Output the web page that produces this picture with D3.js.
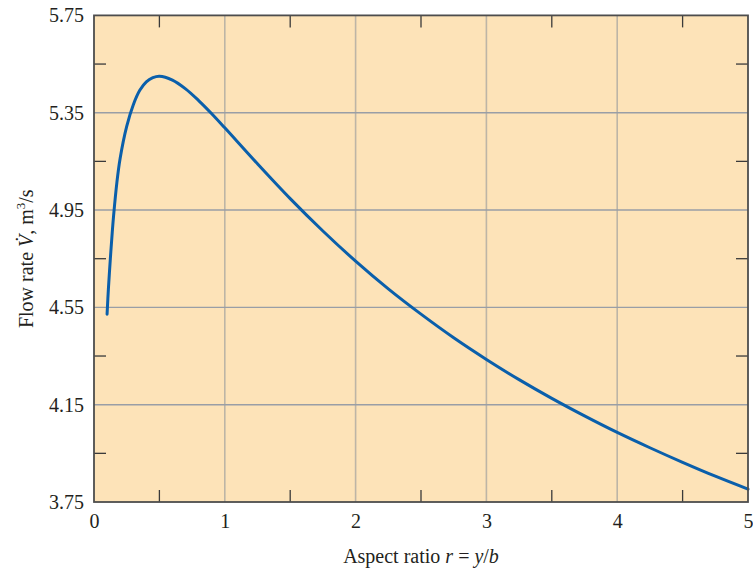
<!DOCTYPE html>
<html>
<head>
<meta charset="utf-8">
<script src="https://cdn.jsdelivr.net/npm/d3@7"></script>
<style>
  html, body { margin: 0; padding: 0; background: #ffffff; }
  svg { display: block; }
  text { font-family: "Liberation Serif", "DejaVu Serif", serif; fill: #231f20; }
</style>
</head>
<body>
<svg id="chart" width="753" height="570"></svg>
<script>
// ---- data ----
const aspectRatio = [0.1, 0.11, 0.125, 0.14, 0.15, 0.175, 0.2, 0.25, 0.3, 0.35, 0.4, 0.45, 0.5, 0.6, 0.7, 0.8, 0.9, 1.0,
  1.25, 1.5, 1.75, 2.0, 2.25, 2.5, 2.75, 3.0, 3.25, 3.5, 3.75, 4.0, 4.25, 4.5, 4.75, 5.0];
const flowRate = [4.522, 4.625, 4.750, 4.862, 4.928, 5.064, 5.163, 5.294, 5.382, 5.442, 5.477, 5.494, 5.500, 5.484, 5.448, 5.400, 5.346, 5.288,
  5.140, 4.997, 4.864, 4.740, 4.626, 4.522, 4.425, 4.336, 4.253, 4.176, 4.104, 4.036, 3.973, 3.913, 3.856, 3.803];
const xTicks = [0, 1, 2, 3, 4, 5];
const xMinorTicks = [0.5, 1.5, 2.5, 3.5, 4.5];
const yTicks = [3.75, 4.15, 4.55, 4.95, 5.35, 5.75];
const yMinorTicks = [3.95, 4.35, 4.75, 5.15, 5.55];

(function () {
const svg = d3.select("#chart");
const pL = 94, pR = 748, pT = 15.4, pB = 502;
const x = d3.scaleLinear().domain([0, 5]).range([pL, pR]);
const y = d3.scaleLinear().domain([3.75, 5.75]).range([pB, pT]);

// background
svg.append("rect").attr("x", pL).attr("y", pT)
  .attr("width", pR - pL).attr("height", pB - pT)
  .attr("fill", "#fde3b8");

// gridlines
svg.append("g").selectAll("line").data(xTicks.filter(d => d > 0 && d < 5)).join("line")
  .attr("x1", d => x(d)).attr("x2", d => x(d)).attr("y1", pT).attr("y2", pB)
  .attr("stroke", "#bdb5a6").attr("stroke-width", 1.6);
svg.append("g").selectAll("line").data(yTicks.filter(d => d > 3.75 && d < 5.75)).join("line")
  .attr("x1", pL).attr("x2", pR).attr("y1", d => y(d)).attr("y2", d => y(d))
  .attr("stroke", "#999ea6").attr("stroke-width", 1.4);

// minor inward ticks
const tl = 12;
const tickG = svg.append("g").attr("stroke", "#3a3a3a").attr("stroke-width", 1.3);
xMinorTicks.forEach(d => {
  tickG.append("line").attr("x1", x(d)).attr("x2", x(d)).attr("y1", pB).attr("y2", pB - tl);
  tickG.append("line").attr("x1", x(d)).attr("x2", x(d)).attr("y1", pT).attr("y2", pT + tl);
});
yMinorTicks.forEach(d => {
  tickG.append("line").attr("x1", pL).attr("x2", pL + tl).attr("y1", y(d)).attr("y2", y(d));
  tickG.append("line").attr("x1", pR).attr("x2", pR - tl).attr("y1", y(d)).attr("y2", y(d));
});

// curve
const line = d3.line().x((d, i) => x(aspectRatio[i])).y(d => y(d)).curve(d3.curveCatmullRom.alpha(0.5));
svg.append("path").datum(flowRate).attr("d", line)
  .attr("fill", "none").attr("stroke", "#0a5fab").attr("stroke-width", 3)
  .attr("stroke-linecap", "round").attr("stroke-linejoin", "round");

// frame
svg.append("rect").attr("x", pL).attr("y", pT)
  .attr("width", pR - pL).attr("height", pB - pT)
  .attr("fill", "none").attr("stroke", "#4d4d4d").attr("stroke-width", 1.8);

// axis labels using d3 axes (no tick lines)
const xAxis = d3.axisBottom(x).tickValues(xTicks).tickFormat(d3.format("d")).tickSize(0).tickPadding(12);
const gx = svg.append("g").attr("transform", `translate(0,${pB})`).call(xAxis);
gx.select(".domain").remove();
gx.selectAll("text").attr("font-family", "Liberation Serif").attr("font-size", 20).attr("fill", "#231f20");

const yAxis = d3.axisLeft(y).tickValues(yTicks).tickFormat(d3.format(".2f")).tickSize(0).tickPadding(10);
const gy = svg.append("g").attr("transform", `translate(${pL},0)`).call(yAxis);
gy.select(".domain").remove();
gy.selectAll("text").attr("font-family", "Liberation Serif").attr("font-size", 20).attr("fill", "#231f20");

// x title
const xt = svg.append("text").attr("x", (pL + pR) / 2).attr("y", 563)
  .attr("text-anchor", "middle").attr("font-size", 20);
xt.append("tspan").text("Aspect ratio ");
xt.append("tspan").attr("font-style", "italic").text("r");
xt.append("tspan").text(" = ");
xt.append("tspan").attr("font-style", "italic").text("y");
xt.append("tspan").text("/");
xt.append("tspan").attr("font-style", "italic").text("b");

// y title
const yt = svg.append("text").attr("transform", `translate(33,${(pT + pB) / 2}) rotate(-90)`)
  .attr("text-anchor", "middle").attr("font-size", 20);
yt.append("tspan").text("Flow rate ");
yt.append("tspan").attr("font-style", "italic").text("V\u0307");
yt.append("tspan").text(", m");
yt.append("tspan").attr("font-size", 13).attr("dy", -8).text("3");
yt.append("tspan").attr("dy", 8).text("/s");
})();
</script>
</body>
</html>
